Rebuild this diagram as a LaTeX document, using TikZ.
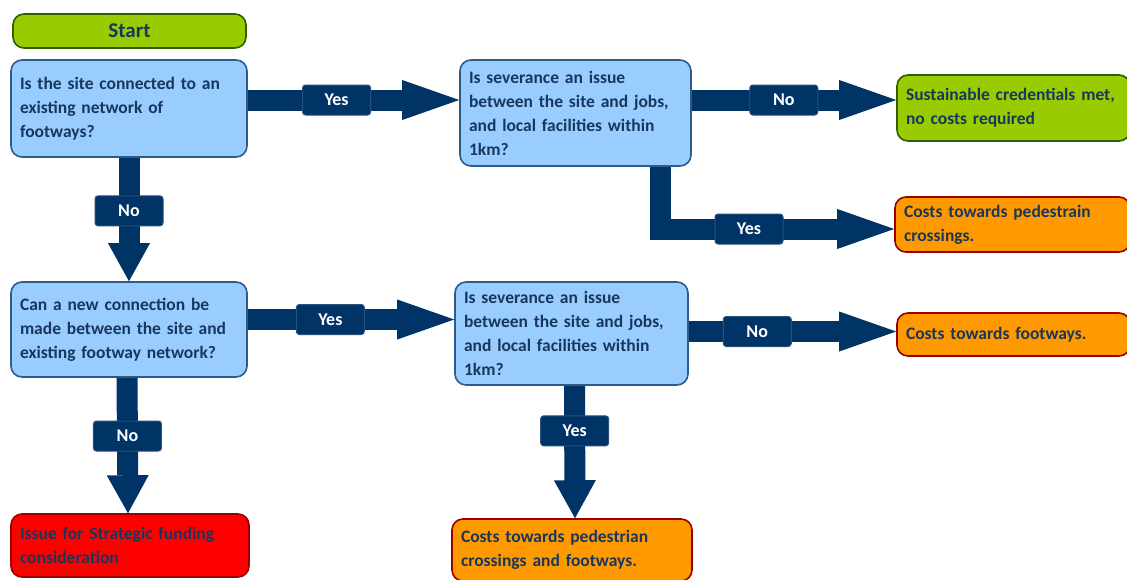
\documentclass[tikz,border=0pt]{standalone}
\usepackage{fontspec}
\setmainfont{Carlito}
\usepackage{xcolor}
\usetikzlibrary{arrows.meta,positioning}
\definecolor{navy}{HTML}{003366}
\definecolor{qfill}{HTML}{99CCFF}
\definecolor{qline}{HTML}{2E5C8A}
\definecolor{txtblue}{HTML}{17375E}
\definecolor{okgreen}{HTML}{99CC00}
\definecolor{okline}{HTML}{2F5F00}
\definecolor{costorange}{HTML}{FF9900}
\definecolor{costline}{HTML}{990000}
\definecolor{alarmred}{HTML}{FF0000}
\tikzset{
	box/.style={
			rectangle, rounded corners=11pt, line width=1.6pt,
			font=\fontsize{17.5}{24}\selectfont\bfseries, text=txtblue,
			align=left, inner xsep=9pt, inner ysep=0pt
		},
	question/.style={box, draw=qline, fill=qfill},
	fine/.style={box, draw=okline, fill=okgreen},
	cost/.style={box, draw=costline, fill=costorange},
	alarm/.style={box, draw=costline, fill=alarmred},
	flow/.style={
			draw=navy, line width=21pt, line join=miter,
			-{Triangle[length=57pt, width=40pt, line width=0pt]}
		},
	flowdown/.style={
			draw=navy, line width=21pt,
			-{Triangle[length=38pt, width=42pt, line width=0pt]}
		},
	answer/.style={
			rectangle, rounded corners=3pt, fill=navy, draw=navy!85!white,
			line width=1pt, minimum width=68pt, minimum height=30pt,
			text=white, font=\fontsize{18}{18}\selectfont\bfseries
		}
}

\begin{document}
\begin{tikzpicture}[x=1pt, y=-1pt]
  \useasboundingbox (0,0) rectangle (1127,579);

  \node[fine, minimum width=233pt, minimum height=34pt, align=center,
    font=\fontsize{21}{21}\selectfont\bfseries] (start) at (129.5,31) {Start};

  \node[question, text width=218pt, minimum height=97pt] (isconnected) at (129,108.5)
    {Is the site connected to an\\existing network of\\footways?};
  \node[question, text width=213pt, minimum height=106pt] (severance1) at (575.5,113)
    {Is severance an issue\\between the site and jobs,\\and local facilities within\\1km?};
  \node[fine, text width=215pt, minimum height=66pt] (credentials) at (1013.5,108)
    {Sustainable credentials met,\\no costs required};
  \node[cost, text width=217pt, minimum height=55pt] (crossings) at (1012.5,224.5)
    {Costs towards pedestrain\\crossings.};

  \node[question, text width=218pt, minimum height=95pt] (newconnection) at (129,329.5)
    {Can a new connection be\\made between the site and\\existing footway network?};
  \node[question, text width=215pt, minimum height=103pt] (severance2) at (571.5,333.5)
    {Is severance an issue\\between the site and jobs,\\and local facilities within\\1km?};
  \node[cost, text width=215pt, minimum height=43pt] (footways) at (1013.5,334.5)
    {Costs towards footways.};

  \node[alarm, text width=220pt, minimum height=63pt] (strategic) at (130,545.5)
    {Issue for Strategic funding\\consideration};
  \node[cost, text width=222pt, minimum height=62pt] (both) at (572,550)
    {Costs towards pedestrian\\crossings and footways.};

  % rows and columns of the arrows
  \coordinate (rowa) at (0,100);
  \coordinate (rowb) at (0,229);
  \coordinate (rowc) at (0,319.5);
  \coordinate (rowd) at (0,331.5);
  \coordinate (colq) at (660,0);

  \path (isconnected.east |- rowa) edge [flow] node [answer, pos=0.42] {Yes} (severance1.west |- rowa)
    (isconnected.south) edge [flowdown] node [answer, pos=0.43] {No} (newconnection.north);
  \path (severance1.east |- rowa) edge [flow] node [answer, pos=0.45] {No} (credentials.west |- rowa);
  \draw[flow] (severance1.south -| colq) |- node [answer, pos=0.69] {Yes} (crossings.west |- rowb);

  \path (newconnection.east |- rowc) edge [flow] node [answer, pos=0.40] {Yes} (severance2.west |- rowc)
    ([xshift=-2pt]newconnection.south) edge [flowdown] node [answer, pos=0.43] {No} ([xshift=-2pt]strategic.north);
  \path (severance2.east |- rowd) edge [flow] node [answer, pos=0.33] {No} (footways.west |- rowd)
    ([xshift=3pt]severance2.south) edge [flowdown] node [answer, pos=0.34] {Yes} ([xshift=3pt]both.north);

\end{tikzpicture}
\end{document}
